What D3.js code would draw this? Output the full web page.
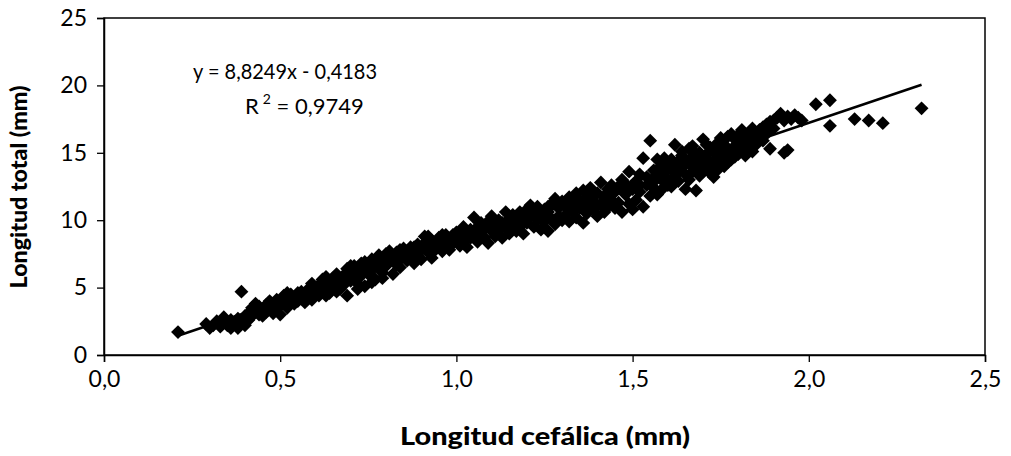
<!DOCTYPE html>
<html>
<head>
<meta charset="utf-8">
<script src="https://cdn.jsdelivr.net/npm/d3@7"></script>
<style>
  body { margin: 0; background: #fff; }
  text { font-family: Lato, "DejaVu Sans", sans-serif; fill: #000; }
</style>
</head>
<body>
<svg id="chart" width="1011" height="456"></svg>
<script>
// ticks
const xTicks = [0, 0.5, 1.0, 1.5, 2.0, 2.5];
const yTicks = [0, 5, 10, 15, 20, 25];

// trend line (Excel linear fit)
const pendiente = 8.8249, ordenada = -0.4183;
const r2 = 0.9749;

// [longitud cefalica, longitud total]
const puntos = [
  [0.21,1.7],[0.29,2.3],[0.30,2.0],[0.31,2.2],[0.32,2.5],[0.33,2.1],[0.34,2.4],[0.34,2.8],[0.35,2.2],[0.36,2.0],
  [0.36,2.6],[0.37,2.3],[0.38,2.0],[0.38,2.7],[0.39,4.7],[0.39,2.4],[0.40,2.9],[0.40,2.2],
  [0.41,3.1],[0.41,2.6],[0.42,3.5],[0.42,2.9],[0.43,3.3],[0.43,3.8],[0.44,3.0],[0.44,3.6],[0.45,3.4],[0.45,2.9],
  [0.46,3.7],[0.46,3.2],[0.47,4.0],[0.47,3.5],[0.48,3.1],[0.48,3.8],[0.49,3.4],[0.49,4.1],[0.50,3.0],[0.50,3.7],
  [0.51,4.4],[0.51,3.9],[0.52,4.6],[0.52,3.5],[0.53,4.1],[0.53,4.5],[0.54,3.8],[0.54,4.3],[0.55,4.0],[0.55,4.6],
  [0.56,4.2],[0.56,4.7],[0.57,3.9],[0.57,4.5],[0.58,4.9],[0.58,4.3],[0.59,4.1],[0.59,5.3],[0.60,4.6],[0.60,5.0],
  [0.61,4.4],[0.61,5.2],[0.62,5.6],[0.62,4.8],[0.63,5.1],[0.63,5.8],[0.64,4.6],[0.64,5.4],[0.65,5.0],[0.65,5.7],
  [0.66,5.3],[0.66,6.0],[0.67,5.6],[0.67,4.9],[0.68,5.9],[0.68,5.2],[0.69,4.4],[0.69,6.4],[0.70,5.5],[0.70,6.1],
  [0.71,5.8],[0.71,6.6],[0.72,5.3],[0.72,6.2],[0.73,5.9],[0.73,6.8],[0.74,5.1],[0.74,6.4],[0.75,6.0],[0.75,6.7],
  [0.76,7.1],[0.76,6.3],[0.77,5.6],[0.77,6.9],[0.78,6.5],[0.78,7.4],[0.79,6.1],[0.79,6.8],[0.80,7.2],[0.80,6.6],
  [0.81,7.7],[0.81,7.0],[0.82,6.0],[0.82,7.3],[0.83,6.7],[0.83,7.6],[0.84,7.1],[0.84,6.5],[0.85,7.4],[0.85,7.9],
  [0.86,7.0],[0.86,7.7],[0.87,8.0],[0.87,7.3],[0.88,6.8],[0.88,7.6],[0.89,8.2],[0.89,7.4],[0.90,7.9],[0.90,7.1],
  [0.91,8.8],[0.91,8.3],[0.92,7.6],[0.92,8.1],[0.93,7.2],[0.93,8.5],[0.94,7.8],[0.94,8.3],[0.95,8.0],[0.95,8.7],
  [0.96,8.4],[0.96,7.7],[0.97,8.9],[0.97,8.1],[0.98,8.6],[0.98,7.8],[0.99,8.3],[0.99,8.9],[1.00,8.5],[1.00,9.1],
  [1.01,8.1],[1.01,8.8],[1.02,9.5],[1.02,8.4],[1.03,9.0],[1.03,8.0],[1.04,8.7],[1.04,9.3],[1.05,10.2],[1.05,8.9],
  [1.06,9.5],[1.06,8.4],[1.07,9.1],[1.07,9.8],[1.08,8.7],[1.08,9.4],[1.09,9.9],[1.09,8.3],[1.10,9.2],[1.10,10.3],
  [1.11,9.6],[1.11,8.8],[1.12,10.0],[1.12,9.3],[1.13,8.7],[1.13,9.8],[1.14,10.6],[1.14,9.4],[1.15,10.1],[1.15,9.0],
  [1.16,9.7],[1.16,10.4],[1.17,9.2],[1.17,10.0],[1.18,10.6],[1.18,9.5],[1.19,10.2],[1.19,9.0],[1.20,10.8],[1.20,9.8],
  [1.21,11.1],[1.21,10.3],[1.22,9.5],[1.22,10.6],[1.23,10.0],[1.23,11.0],[1.24,9.3],[1.24,10.4],[1.25,10.8],[1.25,9.9],
  [1.26,9.2],[1.26,10.6],[1.27,11.2],[1.27,10.1],[1.28,11.6],[1.28,9.7],[1.29,10.9],[1.29,10.3],[1.30,11.4],[1.30,10.0],
  [1.31,11.0],[1.31,10.4],[1.32,11.7],[1.32,9.9],[1.33,11.3],[1.33,10.7],[1.34,12.0],[1.34,10.2],[1.35,11.5],[1.35,10.9],
  [1.36,12.2],[1.36,9.8],[1.37,11.1],[1.37,10.5],[1.38,11.8],[1.38,12.4],[1.39,10.8],[1.39,11.4],[1.40,12.0],[1.40,10.3],
  [1.41,12.8],[1.41,11.2],[1.42,11.7],[1.42,10.6],[1.43,12.3],[1.43,11.0],[1.44,12.6],[1.44,11.5],[1.45,12.1],[1.45,10.9],
  [1.46,12.5],[1.46,11.3],[1.47,13.0],[1.47,10.6],[1.48,11.9],[1.48,12.7],[1.49,13.6],[1.49,11.2],[1.50,12.3],[1.50,10.8],
  [1.51,11.5],[1.51,12.9],[1.52,13.4],[1.52,12.1],[1.53,14.6],[1.53,11.0],[1.54,12.6],[1.54,13.2],[1.55,15.9],[1.55,11.8],[1.55,12.9],
  [1.56,13.7],[1.56,12.4],[1.57,13.1],[1.57,11.9],[1.58,14.0],[1.58,12.2],[1.59,13.5],[1.59,12.8],[1.60,14.2],[1.60,13.0],
  [1.61,12.5],[1.61,13.8],[1.62,15.6],[1.62,13.3],[1.63,14.4],[1.63,12.9],[1.64,13.9],[1.64,14.8],[1.65,13.4],[1.65,12.3],
  [1.66,15.3],[1.66,14.2],[1.67,13.6],[1.67,14.7],[1.68,12.2],[1.68,14.0],[1.69,15.0],[1.69,13.3],[1.70,16.0],[1.70,14.5],
  [1.71,14.9],[1.71,13.8],[1.72,15.4],[1.72,14.3],[1.73,13.2],[1.73,15.1],[1.74,14.6],[1.74,15.7],[1.75,14.1],[1.75,15.3],
  [1.76,14.0],[1.76,15.6],[1.77,15.0],[1.77,16.2],[1.78,16.4],[1.78,14.5],[1.79,15.5],[1.79,16.0],[1.80,14.9],[1.80,15.8],
  [1.81,16.7],[1.81,15.4],[1.82,16.1],[1.82,14.8],[1.83,15.2],[1.83,16.5],[1.84,15.9],[1.85,16.3],[1.85,15.6],
  [1.86,16.0],[1.87,16.9],[1.88,16.4],[1.89,15.3],[1.89,17.3],[1.90,16.8],
  [1.91,17.6],[1.92,17.9],[1.93,15.0],[1.93,17.4],[1.94,15.2],[1.94,17.7],[1.95,17.5],[1.96,17.8],[1.97,17.6],[1.98,17.4],
  [2.02,18.6],[2.06,18.9],[2.06,17.0],[2.13,17.5],[2.17,17.4],[2.21,17.2],[2.32,18.3],
  // denser part of the cloud
  [0.70,6.6],[0.74,6.9],[0.80,7.5],[0.84,7.8],[0.88,8.0],[0.92,8.8],[0.96,8.9],[1.02,9.0],[1.10,9.7],[1.18,10.2],
  [1.26,11.0],[1.32,10.8],[1.36,11.4],[1.44,12.0],[1.48,12.2],[1.52,12.6],
  [1.56,13.1],[1.57,14.5],[1.58,13.3],[1.59,14.6],[1.60,12.6],[1.61,14.5],[1.62,14.1],[1.63,13.6],[1.64,15.1],[1.65,14.3],
  [1.66,13.0],[1.67,15.5],[1.68,14.9],[1.69,14.2],[1.70,13.6],[1.71,15.6],[1.72,13.5],[1.73,14.1],[1.74,13.7],[1.75,16.1],
  [1.76,14.8],[1.77,14.3],[1.78,15.2],[1.79,14.7],[1.80,16.3],[1.82,15.6],[1.84,16.8],[1.84,15.1],[1.86,16.7],[1.87,15.9],
  [1.88,17.1],[1.90,17.4],
  // lower edge around 0,6 - 0,8
  [0.63,4.4],[0.66,4.7],[0.72,4.9],[0.76,5.4],[0.79,5.7]
];

const mLeft = 104, mRight = 985, mTop = 18, mBottom = 355;

const svg = d3.select('#chart');

const x = d3.scaleLinear().domain([0, 2.5]).range([mLeft, mRight]);
const y = d3.scaleLinear().domain([0, 25]).range([mBottom, mTop]);

const fmt = d => d3.format('.1f')(d).replace('.', ',');

// plot frame
svg.append('rect')
  .attr('x', mLeft).attr('y', mTop)
  .attr('width', mRight - mLeft).attr('height', mBottom - mTop)
  .attr('fill', 'none').attr('stroke', '#000').attr('stroke-width', 1.5);

// axes
let xAxis = svg.append('g')
  .attr('transform', `translate(0,${mBottom})`)
  .call(d3.axisBottom(x).tickValues(xTicks).tickFormat(fmt).tickSize(7).tickPadding(9));
let yAxis = svg.append('g')
  .attr('transform', `translate(${mLeft},0)`)
  .call(d3.axisLeft(y).tickValues(yTicks).tickSize(7).tickPadding(10));

[xAxis, yAxis].forEach(g => {
  g.select('.domain').attr('stroke', '#000').attr('stroke-width', 1.5);
  g.selectAll('.tick line').attr('stroke', '#000').attr('stroke-width', 1.3);
  g.selectAll('.tick text')
    .attr('font-family', 'Lato, sans-serif')
    .attr('font-size', 23)
    .attr('fill', '#000');
});

// markers
const diamond = d3.symbol().type(d3.symbolSquare).size(96);
svg.append('g')
  .selectAll('path')
  .data(puntos)
  .enter()
    .append('path')
    .attr('d', diamond)
    .attr('transform', d => `translate(${x(d[0])},${y(d[1])}) rotate(45)`)
    .attr('fill', '#000');

// trend line over the data range
const xMin = d3.min(puntos, d => d[0]), xMax = d3.max(puntos, d => d[0]);
svg.append('line')
  .attr('x1', x(xMin)).attr('y1', y(pendiente * xMin + ordenada))
  .attr('x2', x(xMax)).attr('y2', y(pendiente * xMax + ordenada))
  .attr('stroke', '#000').attr('stroke-width', 2.6);

// equation
svg.append('text')
  .attr('x', 193).attr('y', 79)
  .attr('font-size', 22)
  .attr('textLength', 184).attr('lengthAdjust', 'spacingAndGlyphs')
  .text(`y = ${String(pendiente).replace('.', ',')}x - ${String(-ordenada).replace('.', ',')}`);
let r = svg.append('text')
  .attr('x', 245).attr('y', 114)
  .attr('font-size', 22);
r.append('tspan').text('R');
r.append('tspan').attr('dy', -10).attr('dx', 4).attr('font-size', 14).text('2');
r.append('tspan').attr('dy', 10).text(` = ${String(r2).replace('.', ',')}`);

// axis titles
svg.append('text')
  .attr('x', 545).attr('y', 445)
  .attr('text-anchor', 'middle')
  .attr('font-size', 24).attr('font-weight', 900)
  .attr('textLength', 290).attr('lengthAdjust', 'spacingAndGlyphs')
  .text('Longitud cefálica (mm)');
svg.append('text')
  .attr('transform', 'translate(27,187) rotate(-90)')
  .attr('text-anchor', 'middle')
  .attr('font-size', 23).attr('font-weight', 900)
  .attr('textLength', 203).attr('lengthAdjust', 'spacingAndGlyphs')
  .text('Longitud total (mm)');
</script>
</body>
</html>
